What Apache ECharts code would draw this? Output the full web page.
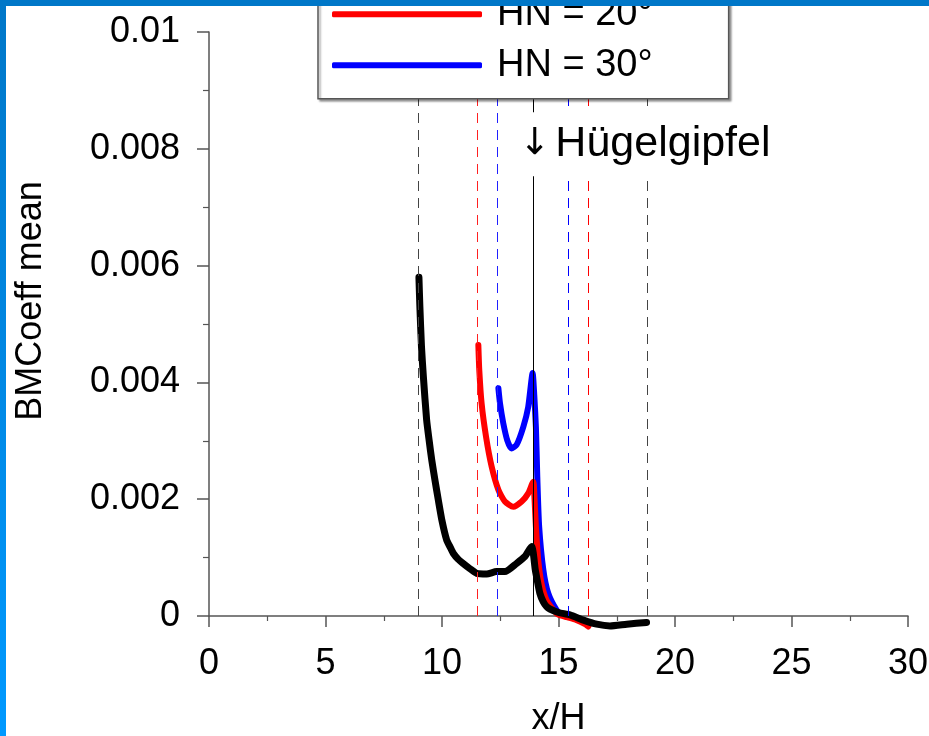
<!DOCTYPE html>
<html>
<head>
<meta charset="utf-8">
<script src="https://cdn.jsdelivr.net/npm/echarts@6/dist/echarts.min.js"></script>
<style>
html,body{margin:0;padding:0;background:#fff;overflow:hidden;}
#c{width:929px;height:736px;}
</style>
</head>
<body>
<div id="c"></div>
<script>
// ---- data ----
const hn10X = [9.01, 9.05, 9.12, 9.2, 9.34, 9.45, 9.56, 9.7, 9.84, 10.0, 10.2, 10.35, 10.49, 10.7, 10.91, 11.2, 11.49, 11.92, 12.34, 12.7, 13.2, 13.56, 13.85, 13.92, 14.0, 14.06, 14.2, 14.35, 14.49, 14.63, 15.0, 15.49, 16.07, 16.64, 17.21, 17.93, 18.78];
const hn10Y = [0.0058, 0.0053, 0.00461, 0.0041, 0.00336, 0.0030, 0.00267, 0.00232, 0.00199, 0.00163, 0.0013, 0.00118, 0.00107, 0.00097, 0.0009, 0.00081, 0.00073, 0.00072, 0.00076, 0.00076, 0.0009, 0.00102, 0.00119, 0.00107, 0.0008, 0.00067, 0.00039, 0.00024, 0.00016, 0.00012, 0.00006, 0.00002, -0.00007, -0.00014, -0.00017, -0.00014, -0.00011];

const hn20X = [11.56, 11.6, 11.7, 11.89, 12.13, 12.42, 12.7, 13.06, 13.42, 13.7, 13.92, 13.96, 14.03, 14.13, 14.27, 14.49, 14.85, 15.0, 15.36, 15.78, 16.14, 16.28];
const hn20Y = [0.00464, 0.00421, 0.00364, 0.00307, 0.00256, 0.00216, 0.00196, 0.00187, 0.00196, 0.0021, 0.0023, 0.0021, 0.00153, 0.00096, 0.00056, 0.00027, 0.00007, 0.00002, -0.00002, -0.00007, -0.00014, -0.00018];

const hn30X = [12.42, 12.49, 12.63, 12.8, 12.98, 13.2, 13.49, 13.7, 13.89, 13.96, 14.03, 14.09, 14.17, 14.35, 14.56, 14.92, 15.1, 15.4];
const hn30Y = [0.0039, 0.00364, 0.0033, 0.00301, 0.00287, 0.00293, 0.00324, 0.00358, 0.00416, 0.00378, 0.00324, 0.00238, 0.00153, 0.00079, 0.00039, 0.0001, 0.00004, 0.00001];

const seriesNames = ['HN = 10°', 'HN = 20°', 'HN = 30°'];
const legendNames = ['HN = 20°', 'HN = 30°'];
const hillTop = 13.9;
const hn10Bounds = [8.96, 18.83];
const hn20Bounds = [11.5, 16.28];
const hn30Bounds = [12.37, 15.4];
const hillArrow = '↓';
const hillText = 'Hügelgipfel';
const hillLabelY = 0.00807;

const xName = 'x/H';
const yName = 'BMCoeff mean';

function zip(xs, ys){ return xs.map((x,i)=>[x, ys[i]]); }

const FONT = '"Liberation Sans", Arial, Helvetica, sans-serif';
const chart = echarts.init(document.getElementById('c'), null, {renderer:'canvas', width: 929, height: 736});

function guideSeries(name, x, color, type){
  const ls = {color: color, width: 1, type: type, opacity: 1};
  return {
    name: name, type: 'line', data: [], z: 1, silent: true, color: color,
    itemStyle: {color: color}, lineStyle: {color: color},
    markLine: {
      silent: true, symbol: ['none','none'], label: {show: false},
      lineStyle: ls,
      emphasis: {disabled: true},
      data: [{xAxis: x, lineStyle: Object.assign({}, ls)}]
    }
  };
}

const SMOOTH = 0.2;

chart.setOption({
  backgroundColor: '#fff',
  animation: false,
  textStyle: {fontFamily: FONT},
  grid: {left: 209, top: 32, width: 699, height: 584, containLabel: false, outerBoundsMode: 'none'},
  legend: {
    data: legendNames,
    orient: 'vertical',
    left: 318,
    top: -30,
    padding: [24.3, 76, 13.4, 14],
    itemGap: 11,
    itemWidth: 150,
    itemHeight: 6,
    icon: 'roundRect',
    itemStyle: {borderWidth: 0},
    backgroundColor: '#fff',
    borderColor: '#555',
    borderWidth: 1.5,
    borderRadius: 0,
    shadowColor: 'rgba(0,0,0,0.35)',
    shadowBlur: 2,
    shadowOffsetX: 2,
    shadowOffsetY: 2,
    textStyle: {fontSize: 38, color: '#000', fontFamily: FONT, lineHeight: 40, padding: [0,0,0,10]},
    selectedMode: false,
    z: 20
  },
  xAxis: {
    type: 'value', min: 0, max: 30, interval: 5,
    name: xName, nameLocation: 'middle', nameGap: 85,
    nameTextStyle: {fontSize: 36, color: '#000', fontFamily: FONT},
    axisLine: {show: true, onZero: false, lineStyle: {color: '#555', width: 1.5}},
    axisTick: {show: true, inside: false, length: 11, lineStyle: {color: '#555', width: 1.5}},
    minorTick: {show: true, splitNumber: 2, length: 5, lineStyle: {color: '#555', width: 1.2}},
    axisLabel: {fontSize: 36, color: '#000', margin: 30, fontFamily: FONT},
    splitLine: {show: false}
  },
  yAxis: {
    type: 'value', min: 0, max: 0.01, interval: 0.002,
    name: yName, nameLocation: 'middle', nameRotate: 90, nameGap: 160,
    nameTextStyle: {fontSize: 36, color: '#000', fontFamily: FONT, padding: [0, 0, 0, 46]},
    axisLine: {show: true, lineStyle: {color: '#555', width: 1.5}},
    axisTick: {show: true, inside: false, length: 12, lineStyle: {color: '#555', width: 1.5}},
    minorTick: {show: true, splitNumber: 2, length: 6, lineStyle: {color: '#555', width: 1.2}},
    axisLabel: {fontSize: 36, color: '#000', margin: 29, fontFamily: FONT},
    splitLine: {show: false}
  },
  graphic: [
    {type: 'rect', left: 0, top: 0, shape: {width: 929, height: 6}, style: {fill: '#0077C8'}, z: 100},
    {type: 'rect', left: 0, top: 0, shape: {width: 6, height: 736},
     style: {fill: new echarts.graphic.LinearGradient(0,0,0,1,[{offset:0,color:'#0077C8'},{offset:1,color:'#0099FF'}])}, z: 100}
  ],
  series: [
    guideSeries('g10a', hn10Bounds[0], '#444', [10, 7]),
    guideSeries('g10b', hn10Bounds[1], '#444', [10, 7]),
    guideSeries('g20a', hn20Bounds[0], '#ff2020', [10, 7]),
    guideSeries('g20b', hn20Bounds[1], '#ff0000', [10, 7]),
    guideSeries('g30a', hn30Bounds[0], '#2020ff', [10, 7]),
    guideSeries('g30b', hn30Bounds[1], '#0000ff', [10, 7]),
    guideSeries('gtop', hillTop, '#000', 'solid'),
    {
      name: seriesNames[2], type: 'line', data: zip(hn30X, hn30Y), z: 2, clip: false,
      showSymbol: false, symbol: 'none', smooth: SMOOTH,
      lineStyle: {color: '#0000ff', width: 6, cap: 'round', join: 'round'},
      itemStyle: {color: '#0000ff'}
    },
    {
      name: seriesNames[1], type: 'line', data: zip(hn20X, hn20Y), z: 3, clip: false,
      showSymbol: false, symbol: 'none', smooth: SMOOTH,
      lineStyle: {color: '#ff0000', width: 6, cap: 'round', join: 'round'},
      itemStyle: {color: '#ff0000'}
    },
    {
      name: seriesNames[0], type: 'line', data: zip(hn10X, hn10Y), z: 4, clip: false,
      showSymbol: false, symbol: 'none', smooth: SMOOTH,
      lineStyle: {color: '#000', width: 7, cap: 'round', join: 'round'},
      itemStyle: {color: '#000'}
    },
    {
      name: 'label', type: 'scatter', data: [], z: 10, silent: true,
      markPoint: {
        silent: true,
        symbol: 'rect', symbolSize: 1,
        itemStyle: {color: 'rgba(0,0,0,0)'},
        data: [{coord: [hillTop, hillLabelY]}],
        label: {
          show: true, formatter: '{a|' + hillArrow + '}{b|' + hillText + '}', position: [-15, 0],
          align: 'left', verticalAlign: 'middle',
          backgroundColor: '#fff', padding: [12, 6, 12, 2],
          rich: {
            a: {fontSize: 37, fontFamily: '"DejaVu Sans", sans-serif', color: '#000', lineHeight: 40},
            b: {fontSize: 43, fontFamily: FONT, color: '#000', lineHeight: 40, padding: [0, 0, 0, 5]}
          }
        }
      }
    }
  ]
});
</script>
</body>
</html>
